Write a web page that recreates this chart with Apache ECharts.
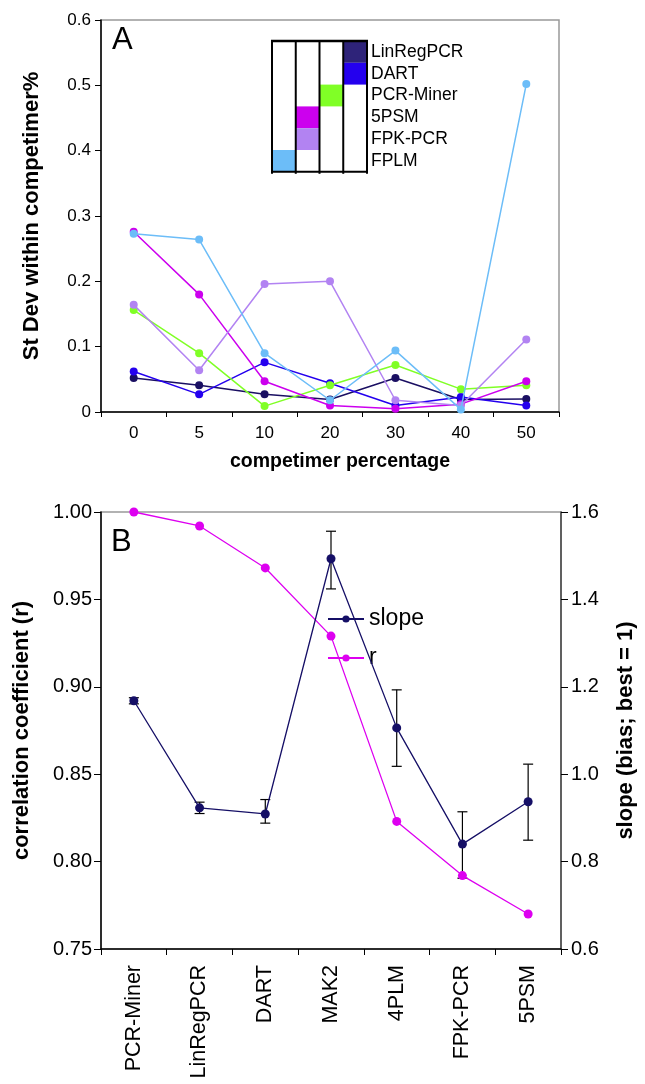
<!DOCTYPE html>
<html>
<head>
<meta charset="utf-8">
<script src="https://cdn.jsdelivr.net/npm/echarts@6/dist/echarts.min.js"></script>
<style>
html,body{margin:0;padding:0;background:#fff;}
#chart{width:645px;height:1084px;}
</style>
</head>
<body>
<div id="chart"></div>
<script>
// ---------- Panel A data ----------
const catsA = ['0', '5', '10', '20', '30', '40', '50'];
const seriesNamesA = ['LinRegPCR', 'DART', 'PCR-Miner', '5PSM', 'FPK-PCR', 'FPLM'];
const linRegPCR = [0.052, 0.041, 0.027, 0.019, 0.052, 0.019, 0.020];
const dart      = [0.062, 0.027, 0.076, 0.044, 0.010, 0.023, 0.010];
const pcrMiner  = [0.156, 0.090, 0.009, 0.041, 0.072, 0.035, 0.041];
const psm5      = [0.276, 0.180, 0.047, 0.010, 0.005, 0.012, 0.047];
const fpkPcr    = [0.164, 0.064, 0.196, 0.200, 0.018, 0.010, 0.111];
const fplm      = [0.273, 0.264, 0.090, 0.018, 0.094, 0.004, 0.502];
const legendColumnA = [3, 3, 2, 1, 1, 0]; // which column of the legend table each entry fills

// ---------- Panel B data ----------
const catsB = ['PCR-Miner', 'LinRegPCR', 'DART', 'MAK2', '4PLM', 'FPK-PCR', '5PSM'];
const rVals     = [1.000, 0.992, 0.968, 0.929, 0.823, 0.792, 0.770];
const slopeVals = [1.168, 0.923, 0.909, 1.493, 1.106, 0.840, 0.937];
const slopeLow  = [1.161, 0.910, 0.888, 1.424, 1.018, 0.762, 0.849];
const slopeHigh = [1.175, 0.936, 0.942, 1.556, 1.193, 0.914, 1.023];

// ---------- styles ----------
const colorsA = ['#1a0f62', '#2400ee', '#80ff26', '#cc00ee', '#b283f2', '#6cbdf8'];
const legendCellColors = ['#2e2379', '#2400ee', '#80ff26', '#cc00ee', '#b283f2', '#6cbdf8'];
const slopeColor = '#150f66';
const rColor = '#dd00f0';
const FONT = '"Liberation Sans", Arial, sans-serif';

const dataA = [linRegPCR, dart, pcrMiner, psm5, fpkPcr, fplm];

const chart = echarts.init(document.getElementById('chart'), null, {renderer: 'canvas'});

const seriesA = dataA.map((d, i) => ({
  name: seriesNamesA[i],
  type: 'line',
  xAxisIndex: 0,
  yAxisIndex: 0,
  data: d,
  symbol: 'circle',
  symbolSize: 8,
  lineStyle: {color: colorsA[i], width: 1.5},
  itemStyle: {color: colorsA[i]},
  z: 3 + i,
  animation: false
}));

// legend table for panel A (graphic)
const lgX0 = 272, lgY0 = 41, colW = 23.75, rowH = 21.8;
const legendGraphics = [];
seriesNamesA.forEach((name, i) => {
  const c = legendColumnA[i];
  legendGraphics.push({
    type: 'rect',
    shape: {x: lgX0 + c * colW, y: lgY0 + i * rowH, width: colW, height: rowH},
    style: {fill: legendCellColors[i]},
    z: 10
  });
  legendGraphics.push({
    type: 'text',
    x: 371, y: lgY0 + i * rowH + rowH / 2,
    style: {text: name, font: '17.5px ' + FONT, fill: '#000', textVerticalAlign: 'middle', verticalAlign: 'middle'},
    z: 11
  });
});
for (let k = 0; k <= 4; k++) {
  legendGraphics.push({
    type: 'line',
    shape: {x1: lgX0 + k * colW, y1: lgY0, x2: lgX0 + k * colW, y2: lgY0 + 6 * rowH + 2},
    style: {stroke: '#000', lineWidth: 2},
    z: 12
  });
}
legendGraphics.push({type: 'line', shape: {x1: lgX0 - 1, y1: lgY0, x2: lgX0 + 4 * colW + 1, y2: lgY0}, style: {stroke: '#000', lineWidth: 2.5}, z: 12});
legendGraphics.push({type: 'line', shape: {x1: lgX0 - 1, y1: lgY0 + 6 * rowH, x2: lgX0 + 4 * colW + 1, y2: lgY0 + 6 * rowH}, style: {stroke: '#000', lineWidth: 2}, z: 12});

const option = {
  backgroundColor: '#fff',
  animation: false,
  textStyle: {fontFamily: FONT},
  grid: [
    {left: 101, top: 20, width: 458, height: 392, show: true, borderColor: '#999', borderWidth: 1.5, backgroundColor: 'transparent'},
    {left: 101, top: 512, width: 460, height: 437, show: true, borderColor: '#999', borderWidth: 1.5, backgroundColor: 'transparent'}
  ],
  legend: {
    data: ['slope', 'r'],
    orient: 'vertical',
    left: 322,
    top: 602,
    itemWidth: 36,
    itemHeight: 9,
    itemGap: 15,
    textStyle: {fontSize: 23, lineHeight: 24, fontFamily: FONT, color: '#000'}
  },
  xAxis: [
    {
      type: 'category', gridIndex: 0, data: catsA, boundaryGap: true,
      name: 'competimer percentage', nameLocation: 'middle', nameGap: 40,
      nameTextStyle: {fontSize: 19.5, fontWeight: 'bold', color: '#000', fontFamily: FONT, padding: [0, 0, 0, 20]},
      axisLine: {lineStyle: {color: '#000', width: 1.5}},
      axisTick: {show: true, length: 5, lineStyle: {color: '#000'}},
      axisLabel: {fontSize: 17, color: '#000', margin: 13, fontFamily: FONT},
      splitLine: {show: false}
    },
    {
      type: 'category', gridIndex: 1, data: catsB, boundaryGap: true,
      axisLine: {lineStyle: {color: '#000', width: 1.5}},
      axisTick: {show: true, length: 6, lineStyle: {color: '#000'}},
      axisLabel: {fontSize: 21.5, color: '#000', rotate: 90, margin: 16, interval: 0, fontFamily: FONT},
      splitLine: {show: false}
    }
  ],
  yAxis: [
    {
      type: 'value', gridIndex: 0, min: 0, max: 0.6, interval: 0.1,
      name: 'St Dev within competimer%', nameLocation: 'middle', nameGap: 58, nameRotate: 90,
      nameTextStyle: {fontSize: 22, fontWeight: 'bold', color: '#000', fontFamily: FONT},
      axisLine: {show: true, lineStyle: {color: '#000', width: 1.5}},
      axisTick: {show: true, length: 6, lineStyle: {color: '#000'}},
      axisLabel: {fontSize: 17, color: '#000', margin: 10, fontFamily: FONT},
      splitLine: {show: false}
    },
    {
      type: 'value', gridIndex: 1, min: 0.75, max: 1.0, interval: 0.05, position: 'left',
      name: 'correlation coefficient (r)', nameLocation: 'middle', nameGap: 68, nameRotate: 90,
      nameTextStyle: {fontSize: 22, fontWeight: 'bold', color: '#000', fontFamily: FONT},
      axisLine: {show: true, lineStyle: {color: '#000', width: 1.5}},
      axisTick: {show: true, length: 7, lineStyle: {color: '#000'}},
      axisLabel: {fontSize: 20, color: '#000', margin: 9, fontFamily: FONT, formatter: v => v.toFixed(2)},
      splitLine: {show: false}
    },
    {
      type: 'value', gridIndex: 1, min: 0.6, max: 1.6, interval: 0.2, position: 'right',
      name: 'slope (bias; best = 1)', nameLocation: 'middle', nameGap: 54, nameRotate: 90,
      nameTextStyle: {fontSize: 22, fontWeight: 'bold', color: '#000', fontFamily: FONT},
      axisLine: {show: true, lineStyle: {color: '#444', width: 1.5}},
      axisTick: {show: true, length: 7, lineStyle: {color: '#000'}},
      axisLabel: {fontSize: 20, color: '#000', margin: 10, fontFamily: FONT, formatter: v => v.toFixed(1)},
      splitLine: {show: false}
    }
  ],
  graphic: [
    {type: 'text', x: 112, y: 25, style: {text: 'A', font: '31px ' + FONT, fill: '#000'}},
    {type: 'text', x: 111, y: 527, style: {text: 'B', font: '31px ' + FONT, fill: '#000'}}
  ].concat(legendGraphics),
  series: seriesA.concat([
    {
      name: 'slope-error', type: 'custom', xAxisIndex: 1, yAxisIndex: 2,
      data: catsB.map((c, i) => [i, slopeLow[i], slopeHigh[i]]),
      renderItem: function (params, api) {
        const x = api.value(0);
        const lo = api.coord([x, api.value(1)]);
        const hi = api.coord([x, api.value(2)]);
        const hw = 5;
        const st = {stroke: '#000', lineWidth: 1.2};
        return {
          type: 'group',
          children: [
            {type: 'line', shape: {x1: lo[0], y1: lo[1], x2: hi[0], y2: hi[1]}, style: st},
            {type: 'line', shape: {x1: lo[0] - hw, y1: lo[1], x2: lo[0] + hw, y2: lo[1]}, style: st},
            {type: 'line', shape: {x1: hi[0] - hw, y1: hi[1], x2: hi[0] + hw, y2: hi[1]}, style: st}
          ]
        };
      },
      z: 2, animation: false
    },
    {
      name: 'slope', type: 'line', xAxisIndex: 1, yAxisIndex: 2, data: slopeVals,
      symbol: 'circle', symbolSize: 9,
      lineStyle: {color: slopeColor, width: 1.3}, itemStyle: {color: slopeColor},
      z: 4, animation: false
    },
    {
      name: 'r', type: 'line', xAxisIndex: 1, yAxisIndex: 1, data: rVals,
      symbol: 'circle', symbolSize: 9,
      lineStyle: {color: rColor, width: 1.3}, itemStyle: {color: rColor},
      z: 3, animation: false
    }
  ])
};
chart.setOption(option);
</script>
</body>
</html>
